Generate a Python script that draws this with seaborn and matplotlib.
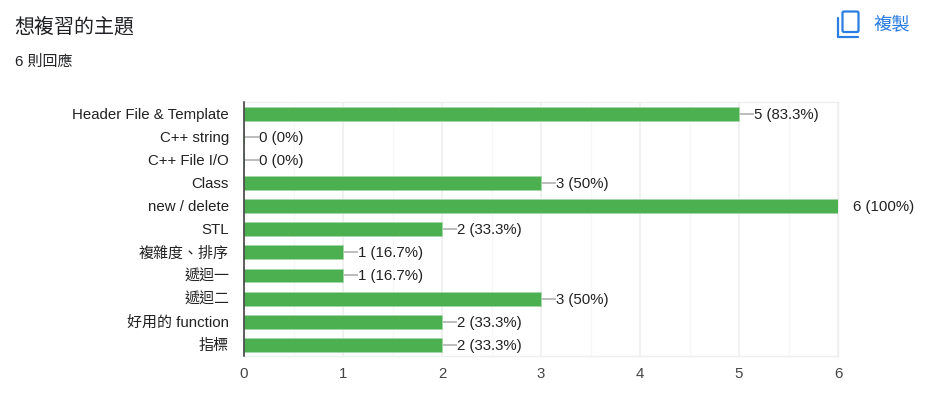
import matplotlib
matplotlib.use("Agg")
import matplotlib.pyplot as plt
from matplotlib.patches import FancyBboxPatch
from matplotlib.lines import Line2D
from matplotlib.transforms import ScaledTranslation
import pandas as pd
import seaborn as sns

categories = ["Header File & Template", "C++ string", "C++ File I/O", "Class", "new / delete",
              "STL", "複雜度、排序", "遞迴一", "遞迴二", "好用的 function", "指標"]
counts = [5, 0, 0, 3, 6, 2, 1, 1, 3, 2, 2]
percents = ["83.3%", "0%", "0%", "50%", "100%", "33.3%", "16.7%", "16.7%", "50%", "33.3%", "33.3%"]
title_text = "想複習的主題"
subtitle_text = "6 則回應"
copy_text = "複製"

sns.set_theme(style="white")
FONT = ["Liberation Sans", "Noto Sans CJK TC", "DejaVu Sans"]
plt.rcParams["font.family"] = FONT

W, H = 932, 394
fig = plt.figure(figsize=(W / 100, H / 100), dpi=100, facecolor="white")
ax = fig.add_axes([244 / W, 1 - 356.4 / H, (838 - 244) / W, (356.4 - 102) / H])

df = pd.DataFrame({"cat": categories, "n": counts})
sns.barplot(data=df, y="cat", x="n", orient="h", color="#4CAF50", saturation=1,
            width=0.6, ax=ax, zorder=3, edgecolor="#A5D6A7", linewidth=0.6)

ax.set_xlim(0, 6)
ax.set_ylim(10.5, -0.5)
ax.set_xlabel("")
ax.set_ylabel("")
ax.set_xticks(range(7))
ax.set_xticks([i + 0.5 for i in range(6)], minor=True)
ax.grid(True, axis="x", which="major", color="#EDEDED", lw=1.1, zorder=0)
ax.grid(True, axis="x", which="minor", color="#F7F7F7", lw=1.0, zorder=0)
ax.grid(False, axis="y")
ax.set_axisbelow(True)
ax.tick_params(axis="x", which="both", length=0, pad=7.5, labelsize=10.8, labelcolor="#444444")
ax.tick_params(axis="y", length=0, pad=10.8, labelsize=10.8, labelcolor="#222222")
for s in ["top", "bottom", "right"]:
    ax.spines[s].set_color("#EFEFEF")
    ax.spines[s].set_linewidth(1.0)
ax.spines["left"].set_color("#333333")
ax.spines["left"].set_linewidth(1.1)
ax.spines["left"].set_zorder(5)

shift = ScaledTranslation(0, -5 / 100, fig.dpi_scale_trans)
for label in ax.get_yticklabels():
    label.set_va("baseline")
    label.set_transform(label.get_transform() + shift)

for i, (n, p) in enumerate(zip(counts, percents)):
    ax.plot([n, n + 0.152], [i, i], color="#ABABAB", lw=1.1, zorder=2, solid_capstyle="butt")
    ax.annotate(f"{n} ({p})", xy=(n, i), xytext=(10.9, -3.6), textcoords="offset points",
                va="baseline", ha="left", fontsize=10.8, color="#222222", annotation_clip=False)

fig.text(14.5 / W, 1 - 27 / H, title_text, fontsize=14.4, color="#202124", va="center", ha="left")
fig.text(15 / W, 1 - 62 / H, subtitle_text, fontsize=10.8, color="#202124", va="center", ha="left")
fig.text(874 / W, 1 - 25 / H, copy_text, fontsize=13.2, color="#2A7DE1", va="center", ha="left")

# copy icon (drawn in pixel coordinates of the figure)
icon_ax = fig.add_axes([0, 0, 1, 1], facecolor="none")
icon_ax.set_xlim(0, W)
icon_ax.set_ylim(H, 0)
icon_ax.axis("off")
icon_ax.add_patch(FancyBboxPatch((842.5, 11.5), 16, 20.5, boxstyle="round,pad=0,rounding_size=1.5",
                                 fill=False, ec="#2A7DE1", lw=1.6))
icon_ax.add_line(Line2D([837.5, 837.5, 857.5], [18, 36.5, 36.5], color="#2A7DE1", lw=1.6,
                        solid_joinstyle="round"))

fig.savefig("out.png", dpi=100)
